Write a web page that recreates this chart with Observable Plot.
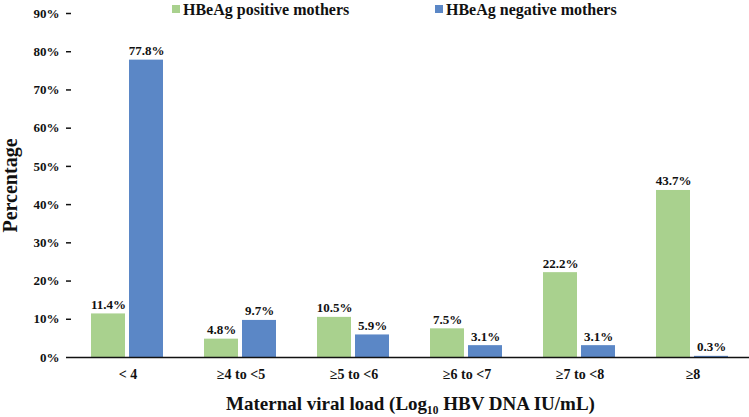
<!DOCTYPE html>
<html>
<head>
<meta charset="utf-8">
<script src="https://cdn.jsdelivr.net/npm/d3@7"></script>
<script src="https://cdn.jsdelivr.net/npm/@observablehq/plot@0.6"></script>
<style>
  html, body { margin: 0; padding: 0; background: #fff; }
  #wrap { position: relative; width: 749px; height: 417px; font-family: "Liberation Serif", "Times New Roman", serif; font-weight: bold; }
  #wrap svg text { font-family: "Liberation Serif", "Times New Roman", serif !important; font-weight: bold; font-variant: normal !important; }
  .legend { position: absolute; top: 1px; font-size: 16px; line-height: 18px; color: #111; white-space: nowrap; }
  .legend .sw { display: inline-block; width: 8px; height: 8px; margin-right: 3px; vertical-align: 2px; }
  g[aria-label="y-axis label"] text { font-size: 20px; }
  g[aria-label="fx-axis label"] text { font-size: 19px; }
  g[aria-label="fx-axis tick label"] text { font-size: 14px; }
</style>
</head>
<body>
<div id="wrap"></div>
<script>
const categories = ["< 4", "≥4 to <5", "≥5 to <6", "≥6 to <7", "≥7 to <8", "≥8"];
const series = ["HBeAg positive mothers", "HBeAg negative mothers"];
const positive = [11.4, 4.8, 10.5, 7.5, 22.2, 43.7];
const negative = [77.8, 9.7, 5.9, 3.1, 3.1, 0.3];
const yTicks = [0, 10, 20, 30, 40, 50, 60, 70, 80, 90];
const colors = ["#A9D18E", "#5B87C6"];

const rows = [];
categories.forEach((c, i) => {
  rows.push({cat: c, series: series[0], value: positive[i]});
  rows.push({cat: c, series: series[1], value: negative[i]});
});

const chart = Plot.plot({
  width: 749,
  height: 417,
  marginLeft: 71,
  marginRight: 0,
  marginTop: 13,
  marginBottom: 60,
  style: {fontFamily: "Liberation Serif, serif", fontWeight: "bold", fontSize: "13px", color: "#111", background: "#fff"},
  fx: {domain: categories, padding: 0},
  x: {domain: series, paddingInner: 0.1, paddingOuter: 0.5, axis: null},
  y: {domain: [0, 90]},
  color: {domain: series, range: colors},
  marks: [
    Plot.barY(rows, {fx: "cat", x: "series", y: "value", fill: "series"}),
    Plot.text(rows, {fx: "cat", x: "series", y: "value", text: d => d.value.toFixed(1) + "%", lineAnchor: "bottom", dy: -5, fill: "#111", fontSize: 13}),
    Plot.ruleY([0], {stroke: "#111", strokeWidth: 1.5}),
    Plot.axisY({ticks: yTicks, tickFormat: d => d + "%", tickSize: 5, tickPadding: 7, line: true, strokeWidth: 1.5, fontSize: 13, label: "Percentage", labelArrow: "none", labelAnchor: "center", labelOffset: 69}),
    Plot.axisFx({anchor: "bottom", tickSize: 0, tickPadding: 12, label: "Maternal viral load (Log₁₀ HBV DNA IU/mL)", labelArrow: "none", labelAnchor: "center", labelOffset: 52})
  ]
});

const wrap = document.getElementById("wrap");
wrap.appendChild(chart);

const lg1 = document.createElement("div");
lg1.className = "legend";
lg1.style.left = "172px";
lg1.innerHTML = `<span class="sw" style="background:${colors[0]}"></span>${series[0]}`;
const lg2 = document.createElement("div");
lg2.className = "legend";
lg2.style.left = "435px";
lg2.innerHTML = `<span class="sw" style="background:${colors[1]}"></span>${series[1]}`;
wrap.appendChild(lg1);
wrap.appendChild(lg2);
</script>
</body>
</html>
